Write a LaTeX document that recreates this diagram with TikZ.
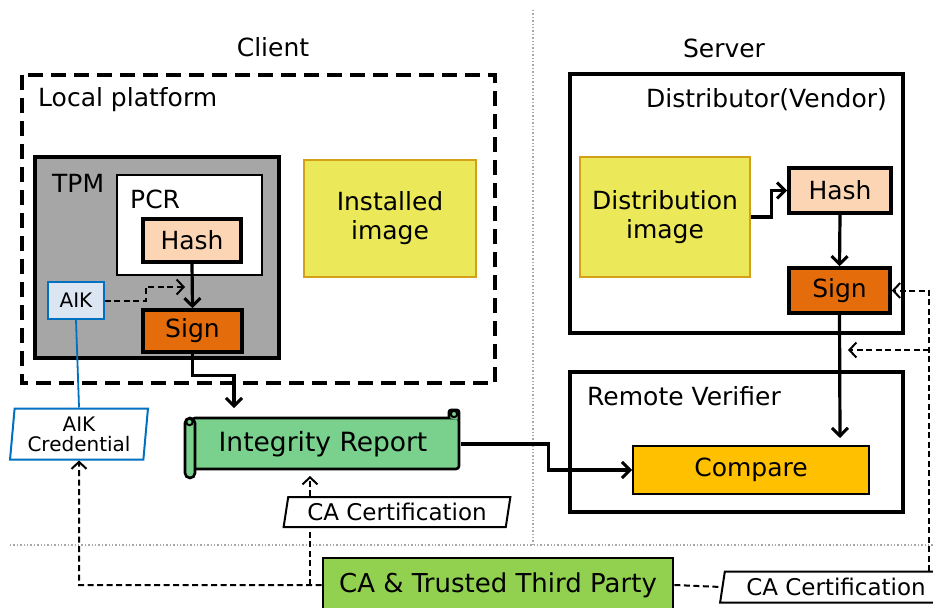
\documentclass[tikz,border=0pt]{standalone}
\usepackage{fontspec}
\setmainfont{DejaVu Sans}
\usetikzlibrary{arrows.meta,shapes.geometric}
\definecolor{tpmgray}{HTML}{A6A6A6}
\definecolor{peach}{HTML}{FCD5B5}
\definecolor{signor}{HTML}{E46C0A}
\definecolor{aikfill}{HTML}{DCE6F2}
\definecolor{aikblue}{HTML}{0070C0}
\definecolor{imgyel}{HTML}{EBE85A}
\definecolor{imggold}{HTML}{D4A017}
\definecolor{cmpyel}{HTML}{FFC000}
\definecolor{irgreen}{HTML}{7AD08D}
\definecolor{ttpgreen}{HTML}{92D050}
\definecolor{sepgray}{HTML}{A8A8A8}
\begin{document}
\begin{tikzpicture}[x=1pt,y=-1pt,
  font=\fontsize{25}{29}\selectfont,
  smallf/.style={font=\fontsize{20}{23}\selectfont},
  frame/.style={draw,line width=3.6pt},
  blk/.style={draw,line width=3.6pt,inner sep=0pt,align=center},
  lbl/.style={inner sep=0pt},
  conn/.style={line width=3.2pt,-{Straight Barb[length=8pt,width=16pt,line width=3pt]}},
  dconn/.style={line width=2pt,dash pattern=on 6pt off 3.5pt,-{Straight Barb[length=7pt,width=15pt,line width=2pt]}},
  dline/.style={line width=2pt,dash pattern=on 6pt off 3.5pt},
  para/.style={draw,trapezium,trapezium stretches=true,line width=2pt,inner sep=0pt,align=center,smallf},
  sep/.style={sepgray,line width=1.4pt,dotted}
]
\clip (0,0) rectangle (933,607);
\fill[white] (0,0) rectangle (933,607);

% separators
\draw[sep] (533,10) -- (533,545);
\draw[sep] (10,545) -- (933,545);

% headings
\node[lbl] (client) at (273,47) {Client};
\node[lbl] (server) at (724,48) {Server};

% Local platform
\draw[frame,dash pattern=on 15pt off 8pt] (22,75) rectangle (495,383);
\node[lbl,anchor=west] (lp) at (38,100) {Local platform};

% TPM
\draw[frame,fill=tpmgray] (35,157) rectangle (279,358);
\node[lbl,anchor=west] (tpm) at (52,183) {TPM};
\draw[line width=2.6pt,fill=white] (117,175) rectangle (262,275);
\node[lbl,anchor=west] (pcr) at (130,199) {PCR};
\node[blk,fill=peach,minimum width=98,minimum height=43] (h1) at (192,240.5) {Hash};
\node[blk,fill=signor,minimum width=99,minimum height=42] (s1) at (192.5,331) {Sign};
\node[draw=aikblue,line width=1.7pt,fill=aikfill,minimum width=56,minimum height=37,inner sep=0pt,smallf] (aik) at (76,300.5) {AIK};

% Installed image
\node[draw=imggold,line width=2.6pt,fill=imgyel,minimum width=172,minimum height=117,align=center,inner sep=0pt] (ii) at (390,218.5) {Installed\\image};

% Server: distributor
\draw[frame] (570,74) rectangle (903,333);
\node[lbl,anchor=east] (dv) at (887,100) {Distributor(Vendor)};
\node[draw=imggold,line width=2.6pt,fill=imgyel,minimum width=170,minimum height=120,align=center,inner sep=0pt] (di) at (665,217) {Distribution\\image};
\node[blk,fill=peach,minimum width=102,minimum height=45] (h2) at (840,190.5) {Hash};
\node[blk,fill=signor,minimum width=101,minimum height=45] (s2) at (839.5,290.5) {Sign};

% Remote verifier
\draw[frame] (570,372) rectangle (903,512);
\node[lbl,anchor=west] (rv) at (587,396) {Remote Verifier};
\node[draw,line width=1.8pt,fill=cmpyel,minimum width=236,minimum height=48,inner sep=0pt] (cmp) at (751,470) {Compare};

% Integrity report scroll
\draw[line width=2.6pt,fill=irgreen,rounded corners=3pt] (192,418) -- (459,418) -- (459,469) -- (192,469) -- cycle;
\draw[line width=2.6pt,fill=irgreen,rounded corners=2pt] (449,418) -- (449,410) -- (459,410) -- (459,420);
\draw[line width=2pt,fill=irgreen] (454,414) circle (3.2);
\draw[line width=2.6pt,fill=irgreen,rounded corners=5pt] (185,418) rectangle (195,478);
\draw[line width=2pt,fill=irgreen] (189.5,422) circle (3.2);
\node[minimum width=276,minimum height=52,inner sep=0pt,font=\fontsize{26.5}{30}\selectfont] (ir) at (323,444) {Integrity Report};

% AIK credential
\node[para,draw=aikblue,trapezium left angle=84,trapezium right angle=96,minimum width=138,minimum height=51] (aikc) at (79,434) {AIK\\[-3pt]Credential};

% CA certifications
\node[para,trapezium left angle=78,trapezium right angle=102,minimum width=227,minimum height=30,font=\fontsize{23}{26}\selectfont] (cac1) at (397,512) {CA Certification};
\node[para,trapezium left angle=78,trapezium right angle=102,minimum width=232,minimum height=31,font=\fontsize{23}{26}\selectfont] (cac2) at (836,587) {CA Certification};

% CA & TTP
\node[draw,line width=2.8pt,fill=ttpgreen,minimum width=350,minimum height=54,inner sep=0pt,font=\fontsize{26}{30}\selectfont] (ttp) at (498,585) {CA \& Trusted Third Party};

% connectors
\draw[conn] (h1.south) -- (s1.north);
\draw[dconn] (aik.east) -- ++(41,0) |- (185,287) coordinate (aikin);
\coordinate (irin) at (234,408);
\draw[conn] (s1.south) -- ++(0,22) -| (irin);
\draw[aikblue,line width=1.8pt] (aik.south) -- (aikc.north);
\draw[conn] (ir.east) -- ++(87,0) |- (cmp.west);
\draw[conn] (di.east) -- ++(20,0) |- (h2.west);
\draw[conn] (h2.south) -- (s2.north);
\coordinate (rvin) at (840,438);
\draw[conn] (s2.south) -- (rvin);

% dashed CA links
\coordinate (rc) at (929,571);
\coordinate (brk) at (929,350);
\draw[dconn] (rc) |- (s2.east);
\draw[dconn] (brk) -- (848,350);
\draw[dline] (ttp.east) -- (cac2.west);
\coordinate (lc) at (79,585);
\draw[dconn] (ttp.west) -- (lc) -- (aikc.south);
\coordinate (mc) at (310,585);
\draw[dline] (mc) -- (mc |- cac1.south);
\draw[dconn] (mc |- cac1.north) -- (mc |- 0,476);
\end{tikzpicture}
\end{document}
